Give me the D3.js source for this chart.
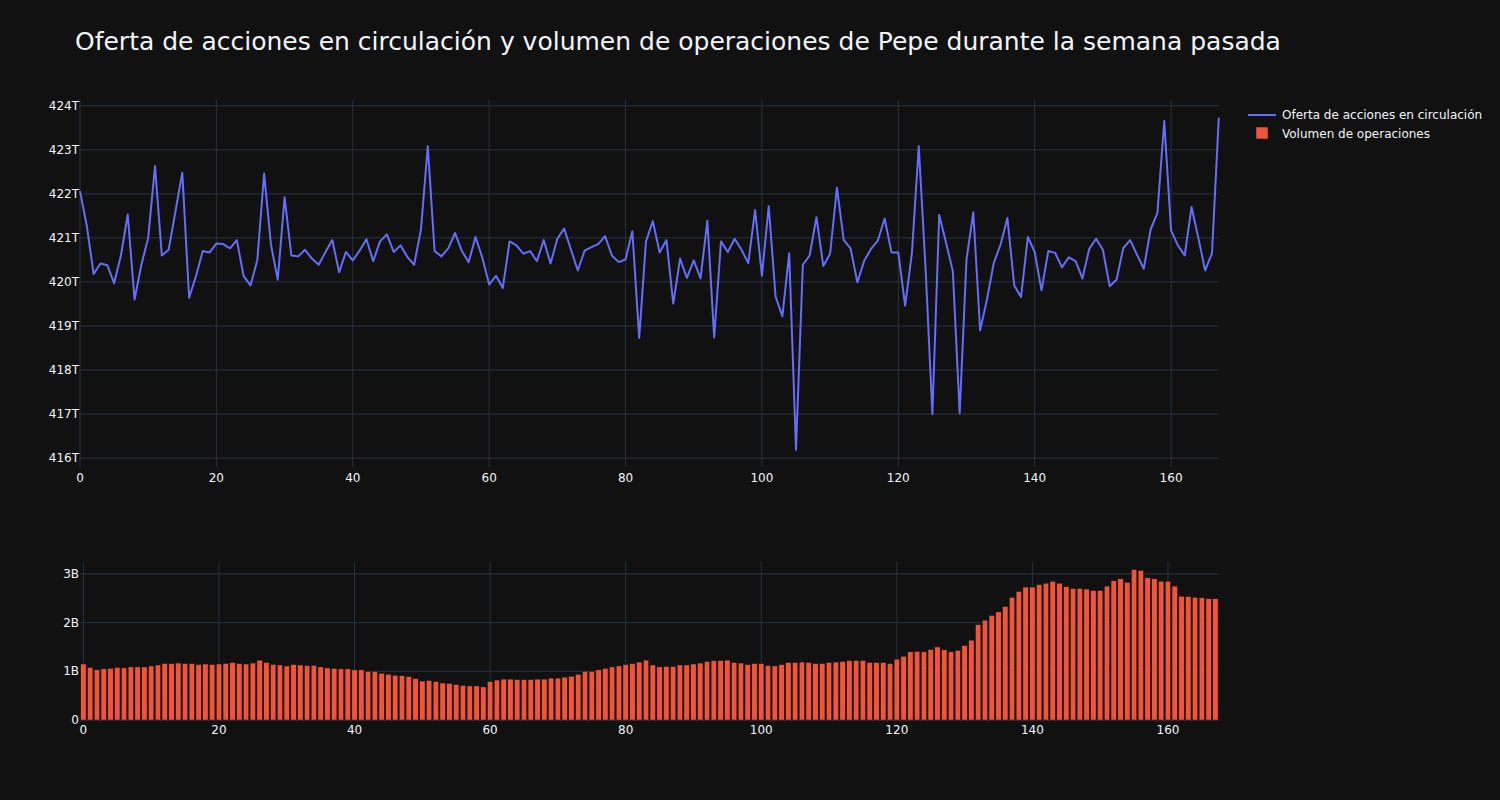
<!DOCTYPE html>
<html><head><meta charset="utf-8">
<script src="https://cdn.jsdelivr.net/npm/d3@7"></script>
<style>
body{margin:0;background:#111111;}
text{font-family:"DejaVu Sans",verdana,arial,sans-serif;}
</style>
</head><body>
<svg id="chart" width="1500" height="800"></svg>
<script>
const chartTitle = "Oferta de acciones en circulación y volumen de operaciones de Pepe durante la semana pasada";
const seriesNames = ["Oferta de acciones en circulación", "Volumen de operaciones"];
// Circulating supply, in trillions (T)
const supply = [
422.06,421.27,420.18,420.42,420.38,419.97,420.6,421.53,419.6,420.39,
421.0,422.63,420.6,420.73,421.6,422.48,419.64,420.13,420.7,420.67,
420.87,420.86,420.76,420.95,420.13,419.92,420.49,422.46,420.85,420.05,
421.92,420.6,420.58,420.73,420.53,420.39,420.68,420.95,420.22,420.68,
420.49,420.71,420.97,420.47,420.92,421.08,420.68,420.83,420.57,420.39,
421.19,423.08,420.7,420.58,420.76,421.11,420.7,420.45,421.02,420.55,
419.94,420.14,419.86,420.92,420.83,420.64,420.7,420.47,420.95,420.42,
420.98,421.21,420.73,420.26,420.71,420.79,420.86,421.04,420.6,420.45,
420.51,421.15,418.73,420.92,421.38,420.67,420.95,419.51,420.53,420.09,
420.49,420.08,421.39,418.74,420.92,420.68,420.98,420.73,420.43,421.63,
420.14,421.72,419.67,419.22,420.65,416.19,420.39,420.6,421.47,420.36,
420.64,422.14,420.95,420.76,419.99,420.48,420.75,420.94,421.44,420.67,
420.67,419.46,420.66,423.08,420.3,417.0,421.52,420.89,420.24,417.02,
420.51,421.58,418.9,419.6,420.43,420.85,421.45,419.92,419.66,421.02,
420.68,419.81,420.7,420.66,420.33,420.56,420.47,420.08,420.75,420.98,
420.73,419.9,420.05,420.77,420.95,420.62,420.3,421.19,421.57,423.65,
421.17,420.83,420.6,421.7,421.0,420.26,420.65,423.73];
// Trading volume, in billions (B)
const volume = [
1.15,1.08,1.03,1.05,1.06,1.08,1.07,1.09,1.09,1.09,
1.11,1.13,1.16,1.16,1.17,1.16,1.16,1.14,1.15,1.14,
1.15,1.16,1.18,1.16,1.15,1.17,1.23,1.18,1.14,1.13,
1.11,1.14,1.13,1.12,1.12,1.09,1.07,1.06,1.05,1.05,
1.03,1.03,1.0,1.0,0.96,0.94,0.92,0.91,0.89,0.85,
0.80,0.81,0.79,0.76,0.75,0.73,0.71,0.70,0.70,0.68,
0.79,0.82,0.84,0.84,0.83,0.83,0.83,0.84,0.84,0.86,
0.86,0.88,0.90,0.94,1.0,1.0,1.03,1.06,1.09,1.11,
1.14,1.16,1.19,1.23,1.13,1.09,1.10,1.10,1.13,1.13,
1.15,1.17,1.20,1.22,1.22,1.23,1.18,1.17,1.14,1.16,
1.16,1.12,1.11,1.14,1.18,1.18,1.19,1.18,1.16,1.16,
1.18,1.19,1.20,1.22,1.22,1.22,1.18,1.18,1.18,1.16,
1.25,1.31,1.40,1.41,1.40,1.45,1.50,1.44,1.40,1.43,
1.53,1.64,1.96,2.05,2.15,2.22,2.33,2.52,2.64,2.73,
2.73,2.78,2.81,2.85,2.81,2.74,2.70,2.70,2.69,2.66,
2.66,2.75,2.86,2.90,2.83,3.09,3.07,2.92,2.90,2.85,
2.85,2.75,2.54,2.54,2.52,2.51,2.49,2.49];
const xTickValues = [0,20,40,60,80,100,120,140,160];
const supplyTickValues = [416,417,418,419,420,421,422,423,424];
const volumeTickValues = [0,1,2,3];

const svg = d3.select("#chart");
const W = 1500, H = 800;
svg.append("rect").attr("width",W).attr("height",H).attr("fill","#111111");

const gridColor = "#283442";
const textColor = "#f2f5fa";
const left = 80, right = 1218.8;

// title
svg.append("text").attr("x",75).attr("y",50).attr("fill",textColor)
  .attr("font-size",25).text(chartTitle);

// ---- Top panel ----
const topY0 = 100, topY1 = 467;
const xTop = d3.scaleLinear().domain([0,167]).range([left,right]);
const yTop = d3.scaleLinear().domain([415.80,424.129]).range([topY1,topY0]);

const gTop = svg.append("g");
gTop.selectAll("line.hg").data(supplyTickValues).join("line")
  .attr("x1",left).attr("x2",right).attr("y1",d=>yTop(d)).attr("y2",d=>yTop(d))
  .attr("stroke",gridColor).attr("stroke-width",1);
gTop.selectAll("line.vg").data(xTickValues).join("line")
  .attr("x1",d=>xTop(d)).attr("x2",d=>xTop(d)).attr("y1",topY0).attr("y2",topY1)
  .attr("stroke",gridColor).attr("stroke-width",1);
gTop.selectAll("text.yt").data(supplyTickValues).join("text")
  .attr("x",79).attr("y",d=>yTop(d)+4).attr("text-anchor","end")
  .attr("fill",textColor).attr("font-size",12).text(d=>d+"T");
gTop.selectAll("text.xt").data(xTickValues).join("text")
  .attr("x",d=>xTop(d)).attr("y",topY1+15).attr("text-anchor","middle")
  .attr("fill",textColor).attr("font-size",12).text(d=>d);

const line = d3.line().x((d,i)=>xTop(i)).y(d=>yTop(d));
gTop.append("path").datum(supply).attr("d",line).attr("fill","none")
  .attr("stroke","#636efa").attr("stroke-width",2).attr("stroke-linejoin","round");

// ---- Bottom panel ----
const botY0 = 562, botY1 = 720;
const xBot = d3.scaleLinear().domain([-0.5,167.5]).range([left,right]);
const yBot = d3.scaleLinear().domain([0,3.245]).range([botY1,botY0]);
const gBot = svg.append("g");
gBot.selectAll("line.hg").data(volumeTickValues).join("line")
  .attr("x1",left).attr("x2",right).attr("y1",d=>yBot(d)).attr("y2",d=>yBot(d))
  .attr("stroke",gridColor).attr("stroke-width",d=>d===0?2:1);
gBot.selectAll("line.vg").data(xTickValues).join("line")
  .attr("x1",d=>xBot(d)).attr("x2",d=>xBot(d)).attr("y1",botY0).attr("y2",botY1)
  .attr("stroke",gridColor).attr("stroke-width",1);
gBot.selectAll("text.yt").data(volumeTickValues).join("text")
  .attr("x",79).attr("y",d=>yBot(d)+4).attr("text-anchor","end")
  .attr("fill",textColor).attr("font-size",12).text(d=>d===0?"0":d+"B");
gBot.selectAll("text.xt").data(xTickValues).join("text")
  .attr("x",d=>xBot(d)).attr("y",botY1+14).attr("text-anchor","middle")
  .attr("fill",textColor).attr("font-size",12).text(d=>d);

const step = xBot(1)-xBot(0);
const bw = step*0.8;
gBot.selectAll("rect.bar").data(volume).join("rect")
  .attr("x",(d,i)=>xBot(i)-bw/2).attr("width",bw)
  .attr("y",d=>yBot(d)).attr("height",d=>yBot(0)-yBot(d))
  .attr("fill","#EF553B").attr("stroke","#111111").attr("stroke-width",0.5);

// ---- Legend ----
const lg = svg.append("g");
lg.append("line").attr("x1",1248).attr("x2",1276).attr("y1",115).attr("y2",115)
  .attr("stroke","#636efa").attr("stroke-width",2);
lg.append("text").attr("x",1282).attr("y",119).attr("fill",textColor)
  .attr("font-size",12).text(seriesNames[0]);
lg.append("rect").attr("x",1256).attr("y",127).attr("width",12).attr("height",12)
  .attr("fill","#EF553B").attr("stroke","#111111").attr("stroke-width",0.5);
lg.append("text").attr("x",1282).attr("y",138).attr("fill",textColor)
  .attr("font-size",12).text(seriesNames[1]);
</script>
</body></html>
